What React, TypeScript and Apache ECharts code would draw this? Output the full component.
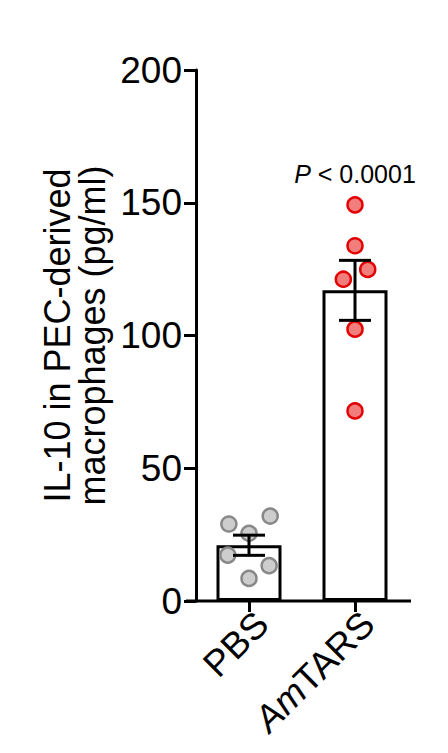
import React, { useEffect, useRef } from 'react';
import * as echarts from 'echarts';

// groups and summary values
const groups = ['PBS', 'AmTARS'];
const means = [21, 117];
const sems = [3.8, 11.3];

// individual animals (pg/ml) with horizontal jitter (fraction of a category band)
const pbsValues = [29, 32, 25.5, 17.3, 13.3, 8.5];
const pbsJitter = [-0.19, 0.2, 0, -0.2, 0.19, 0];
const amtarsValues = [149.2, 133.8, 124.9, 121.2, 102.4, 71.6];
const amtarsJitter = [0, 0, 0.12, -0.11, 0, 0];

const yTicks = { min: 0, max: 200, interval: 50 };
const yTitle = 'IL-10 in PEC-derived\nmacrophages (pg/ml)';
const pLabel = '{i|P} < 0.0001';

const FONT = '"Liberation Sans", Arial, Helvetica, sans-serif';

export default function App() {
  const chartRef = useRef<HTMLDivElement>(null);

  useEffect(() => {
    if (!chartRef.current) return;
    const chart = echarts.init(chartRef.current, undefined, { renderer: 'svg' });

    const option: any = {
      animation: false,
      backgroundColor: '#ffffff',
      textStyle: { fontFamily: FONT },
      grid: { left: 196, right: 40, top: 70, bottom: 152, containLabel: false },
      xAxis: [
        {
          type: 'category',
          data: groups,
          axisLine: { show: false },
          axisTick: { show: true, alignWithLabel: true, length: 11, lineStyle: { color: '#000', width: 3 } },
          axisLabel: {
            rotate: 45,
            margin: 4,
            verticalAlign: 'top',
            color: '#000',
            fontSize: 37,
            fontFamily: FONT,
            formatter: (v: string) => (v === 'AmTARS' ? '{i|Am}TARS' : v),
            rich: { i: { fontStyle: 'italic', fontSize: 37, fontFamily: FONT, color: '#000' } },
          },
        },
        { type: 'value', min: -0.5, max: 1.5, show: false },
      ],
      yAxis: {
        type: 'value',
        min: yTicks.min,
        max: yTicks.max,
        interval: yTicks.interval,
        name: yTitle,
        nameLocation: 'middle',
        nameRotate: 90,
        nameGap: 86,
        nameTextStyle: { color: '#000', fontSize: 36, lineHeight: 35, fontFamily: FONT },
        axisLine: { show: true, onZero: false, lineStyle: { color: '#000', width: 3 } },
        axisTick: { show: true, length: 12, lineStyle: { color: '#000', width: 3 } },
        axisLabel: { color: '#000', fontSize: 37, margin: 14, fontFamily: FONT },
        splitLine: { show: false },
      },
      graphic: [
        {
          type: 'line',
          shape: { x1: 186, y1: 601, x2: 411, y2: 601 },
          style: { stroke: '#000', lineWidth: 3 },
          z: 10,
        },
        {
          type: 'text',
          x: 355,
          y: 174,
          style: {
            text: pLabel,
            fontSize: 25,
            fontFamily: FONT,
            fill: '#000',
            align: 'center',
            verticalAlign: 'middle',
            rich: { i: { fontStyle: 'italic', fontSize: 25, fontFamily: FONT, fill: '#000' } },
          },
        },
      ],
      series: [
        {
          type: 'bar',
          data: means,
          barWidth: 65,
          itemStyle: { color: '#fff', borderColor: '#000', borderWidth: 3 },
          z: 2,
        },
        {
          type: 'scatter',
          xAxisIndex: 1,
          symbolSize: 15,
          data: pbsValues.map((v, i) => [0 + pbsJitter[i], v]),
          itemStyle: { color: '#cdcdcd', borderColor: '#888', borderWidth: 2.5, opacity: 1 },
          z: 3,
        },
        {
          type: 'scatter',
          xAxisIndex: 1,
          symbolSize: 15,
          data: amtarsValues.map((v, i) => [1 + amtarsJitter[i], v]),
          itemStyle: { color: '#f27d7d', borderColor: '#e30000', borderWidth: 2.5, opacity: 1 },
          z: 3,
        },
        {
          type: 'custom',
          xAxisIndex: 0,
          z: 4,
          data: means.map((m, i) => [i, m, sems[i]]),
          encode: { x: 0, y: 1 },
          renderItem: (params: any, api: any) => {
            const x = api.value(0);
            const m = api.value(1);
            const e = api.value(2);
            const top = api.coord([x, m + e]);
            const bot = api.coord([x, m - e]);
            const half = 16;
            const style = { stroke: '#000', lineWidth: 3 };
            return {
              type: 'group',
              children: [
                { type: 'line', shape: { x1: top[0], y1: top[1], x2: bot[0], y2: bot[1] }, style },
                { type: 'line', shape: { x1: top[0] - half, y1: top[1], x2: top[0] + half, y2: top[1] }, style },
                { type: 'line', shape: { x1: bot[0] - half, y1: bot[1], x2: bot[0] + half, y2: bot[1] }, style },
              ],
            };
          },
        },
      ],
    };

    chart.setOption(option);
    return () => {
      chart.dispose();
    };
  }, []);

  return (
    <div
      ref={chartRef}
      style={{ position: 'fixed', left: 0, top: 0, width: 448, height: 753 }}
    />
  );
}
